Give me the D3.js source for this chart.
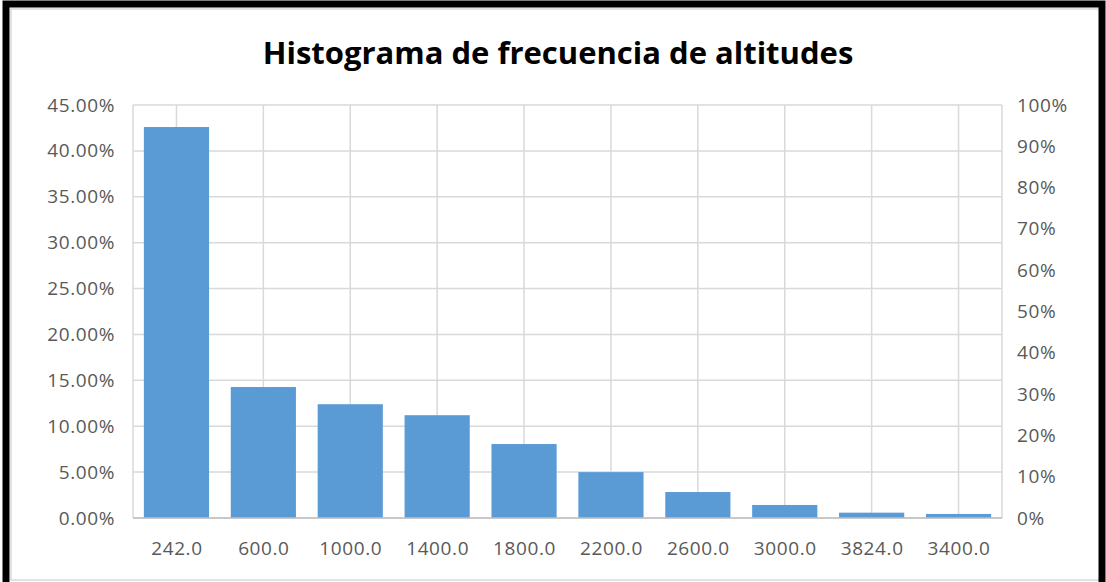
<!DOCTYPE html>
<html>
<head>
<meta charset="utf-8">
<script src="https://cdn.jsdelivr.net/npm/d3@7"></script>
<style>
  body { margin: 0; background: #fff; }
  svg { display: block; font-family: "Open Sans", "Liberation Sans", sans-serif; }
</style>
</head>
<body>
<div id="chart"></div>
<script>
var w = 1106;
var h = 582;

var categories = ["242.0", "600.0", "1000.0", "1400.0", "1800.0", "2200.0", "2600.0", "3000.0", "3824.0", "3400.0"];
var frequency = [0.426, 0.1427, 0.124, 0.112, 0.0806, 0.050, 0.0283, 0.0142, 0.0058, 0.0044];
var leftTicks = [0, 0.05, 0.10, 0.15, 0.20, 0.25, 0.30, 0.35, 0.40, 0.45];
var rightTicks = [0, 0.1, 0.2, 0.3, 0.4, 0.5, 0.6, 0.7, 0.8, 0.9, 1.0];

var margin = { top: 105, left: 133, right: 104, bottom: 64 };
var plotW = w - margin.left - margin.right;
var plotH = h - margin.top - margin.bottom;

var svg = d3.select("#chart")
    .append("svg")
    .attr("width", w)
    .attr("height", h);

// frame
svg.append("rect")
    .attr("x", 0).attr("y", 0)
    .attr("width", w).attr("height", h)
    .attr("fill", "#fff");
svg.append("rect")
    .attr("x", 11).attr("y", 9)
    .attr("width", w - 17).attr("height", h - 11)
    .attr("fill", "none")
    .attr("stroke", "#d9d9d9")
    .attr("stroke-width", 1.5);
svg.append("path")
    .attr("d", "M6,582 V4 H1102 V582")
    .attr("fill", "none")
    .attr("stroke", "#000")
    .attr("stroke-width", 7);

svg.append("text")
    .attr("x", 558)
    .attr("y", 64)
    .attr("text-anchor", "middle")
    .attr("font-size", 31)
    .attr("font-weight", "bold")
    .attr("fill", "#000")
    .text("Histograma de frecuencia de altitudes");

var g = svg.append("g")
    .attr("transform", "translate(" + margin.left + "," + margin.top + ")");

var x = d3.scaleBand()
    .domain(categories)
    .range([0, plotW])
    .paddingInner(0.25)
    .paddingOuter(0.125);
var xc = d3.scalePoint()
    .domain(categories)
    .range([0, plotW])
    .padding(0.5);
var y = d3.scaleLinear().domain([0, 0.45]).range([plotH, 0]);
var y2 = d3.scaleLinear().domain([0, 1]).range([plotH, 0]);

// gridlines
g.selectAll(".hgrid")
    .data(leftTicks)
    .enter().append("line")
    .attr("class", "hgrid")
    .attr("x1", 0).attr("x2", plotW)
    .attr("y1", function(d) { return y(d); })
    .attr("y2", function(d) { return y(d); })
    .attr("stroke", "#d9d9d9")
    .attr("stroke-width", 1.5);
g.selectAll(".vgrid")
    .data(categories)
    .enter().append("line")
    .attr("class", "vgrid")
    .attr("x1", function(d) { return xc(d); })
    .attr("x2", function(d) { return xc(d); })
    .attr("y1", 0).attr("y2", plotH)
    .attr("stroke", "#d9d9d9")
    .attr("stroke-width", 1.5);
g.append("line")
    .attr("x1", 0).attr("x2", 0)
    .attr("y1", 0).attr("y2", plotH)
    .attr("stroke", "#d9d9d9").attr("stroke-width", 1.5);
g.append("line")
    .attr("x1", plotW).attr("x2", plotW)
    .attr("y1", 0).attr("y2", plotH)
    .attr("stroke", "#d9d9d9").attr("stroke-width", 1.5);

// bars
g.selectAll(".bar")
    .data(frequency)
    .enter().append("rect")
    .attr("class", "bar")
    .attr("x", function(d, i) { return x(categories[i]); })
    .attr("y", function(d) { return y(d); })
    .attr("width", x.bandwidth())
    .attr("height", function(d) { return plotH - y(d); })
    .attr("fill", "#5b9bd5");

g.append("line")
    .attr("x1", 0).attr("x2", plotW)
    .attr("y1", plotH).attr("y2", plotH)
    .attr("stroke", "#bfbfbf").attr("stroke-width", 1.5);

// axes
var leftAxis = d3.axisLeft(y)
    .tickValues(leftTicks)
    .tickSize(0)
    .tickPadding(18)
    .tickFormat(d3.format(".2%"));
var rightAxis = d3.axisRight(y2)
    .tickValues(rightTicks)
    .tickSize(0)
    .tickPadding(15)
    .tickFormat(d3.format(".0%"));
var bottomAxis = d3.axisBottom(xc)
    .tickSize(0)
    .tickPadding(24);

function styleAxis(sel) {
    sel.select(".domain").remove();
    sel.selectAll("text")
        .attr("fill", "#595959")
        .attr("font-size", 19)
        .attr("letter-spacing", "0.6px")
        .attr("font-family", "\"Open Sans\", \"Liberation Sans\", sans-serif");
}

g.append("g").call(leftAxis).call(styleAxis);
g.append("g")
    .attr("transform", "translate(" + plotW + ",0)")
    .call(rightAxis).call(styleAxis);
g.append("g")
    .attr("transform", "translate(0," + plotH + ")")
    .call(bottomAxis).call(styleAxis);
</script>
</body>
</html>
